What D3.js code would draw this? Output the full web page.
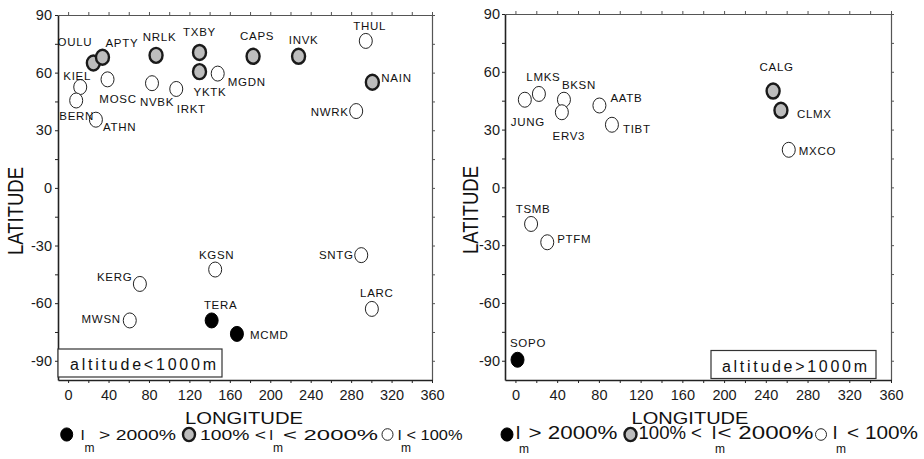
<!DOCTYPE html>
<html>
<head>
<meta charset="utf-8">
<script src="https://cdn.jsdelivr.net/npm/d3@7"></script>
<style>
  body { margin: 0; background: #fff; }
  svg { display: block; font-family: "Liberation Sans", Arial, sans-serif; }
</style>
</head>
<body>
<svg id="chart" width="924" height="459"></svg>
<script>
// stations below 1000 m
const lowStations = ["OULU", "APTY", "NRLK", "TXBY", "YKTK", "CAPS", "INVK", "NAIN", "THUL", "NWRK",
                     "KIEL", "BERN", "ATHN", "MOSC", "NVBK", "IRKT", "MGDN", "KGSN", "SNTG", "KERG",
                     "LARC", "MWSN", "TERA", "MCMD"];
const lowLon = [25, 34, 87, 130, 130, 183, 228, 301, 294.5, 285,
                12, 8, 27.5, 39, 83, 107, 148, 145.5, 290, 71,
                300.5, 61, 142, 167];
const lowLat = [65, 68, 69, 70.5, 60.5, 68.5, 68.5, 55, 76.5, 40,
                52.5, 45.5, 35.5, 56.5, 54.5, 51.5, 59.5, -42.5, -35, -50,
                -63, -69, -69, -76];
const lowClass = ["mid", "mid", "mid", "mid", "mid", "mid", "mid", "mid", "low", "low",
                  "low", "low", "low", "low", "low", "low", "low", "low", "low", "low",
                  "low", "low", "high", "high"];

// stations above 1000 m
const highStations = ["JUNG", "LMKS", "BKSN", "ERV3", "AATB", "TIBT", "CALG", "CLMX", "MXCO", "TSMB", "PTFM", "SOPO"];
const highLon = [9, 22.5, 46.5, 44.5, 80.5, 92.5, 247, 254.5, 262, 15, 30.5, 2];
const highLat = [45.5, 48.5, 45.5, 39, 42.5, 32.5, 50, 40, 19.5, -19, -28.5, -89.5];
const highClass = ["low", "low", "low", "low", "low", "low", "mid", "mid", "low", "low", "low", "high"];

const yTickValues = d3.range(-90, 91, 15);
const xTickValues = d3.range(0, 361, 20);
const boxTexts = ["altitude<1000m", "altitude>1000m"];

// label placement next to each marker: [dx, dy, anchor]
const labelPos = {
  OULU: [-1, -17, "end"], APTY: [3, -10, "start"], NRLK: [3.5, -14, "middle"], TXBY: [0, -16, "middle"],
  CAPS: [4, -16, "middle"], INVK: [5, -12, "middle"], THUL: [4, -11, "middle"], NAIN: [9, 0, "start"],
  KIEL: [-3, -7, "middle"], BERN: [0.5, 19.5, "middle"], ATHN: [7, 11, "start"], MOSC: [10.5, 24, "middle"],
  NVBK: [5, 23, "middle"], IRKT: [0.5, 24, "start"], YKTK: [10.5, 24, "middle"], MGDN: [10, 12, "start"],
  NWRK: [-7.5, 4.5, "end"], KGSN: [1.5, -11, "middle"], SNTG: [-7.5, 3.5, "end"], KERG: [-7.5, -3, "end"],
  LARC: [5, -12, "middle"], TERA: [9, -11.5, "middle"], MWSN: [-9, 3, "end"], MCMD: [13, 5.5, "start"],
  LMKS: [4.5, -13, "middle"], BKSN: [15, -11, "middle"], JUNG: [3, 26, "middle"], ERV3: [7, 28, "middle"],
  AATB: [11, -3.5, "start"], TIBT: [11, 8, "start"], CALG: [3.5, -20, "middle"], CLMX: [16, 8, "start"],
  MXCO: [10, 5, "start"], TSMB: [2, -11, "middle"], PTFM: [10, 1, "start"], SOPO: [10.5, -13, "middle"]
};

const markerStyle = {
  high: {fill: "#000", stroke: "#000", width: 1},
  mid: {fill: "#bdbdbd", stroke: "#1a1a1a", width: 2.4},
  low: {fill: "#fff", stroke: "#222", width: 1}
};

const panels = [
  {names: lowStations, lon: lowLon, lat: lowLat, cls: lowClass, box: boxTexts[0],
   left: 58, right: 432, top: 15, bottom: 380, yGap: 3,
   boxRect: [58, 349, 164, 28], boxTextX: 70, boxTextW: 146,
   xTitle: [244, 118], yTitle: [16, 211]},
  {names: highStations, lon: highLon, lat: highLat, cls: highClass, box: boxTexts[1],
   left: 505, right: 891, top: 14, bottom: 380, yGap: 2,
   boxRect: [711, 350.5, 165, 28], boxTextX: 722, boxTextW: 145,
   xTitle: [690, 117], yTitle: [471, 210]}
];

const svg = d3.select("#chart");

// the source figure has horizontally stretched lettering; widen text to a target width
function stretchTo(sel, x, y, width, anchor) {
  const node = sel.node();
  const s = width / node.getComputedTextLength();
  sel.attr("x", 0).attr("y", 0)
    .attr("text-anchor", anchor || "start")
    .attr("transform", `translate(${x},${y}) scale(${s},1)`);
  return sel;
}

panels.forEach(p => {
  const x = d3.scaleLinear().domain([-10, 360]).range([p.left, p.right]);
  const y = d3.scaleLinear().domain([-100, 90]).range([p.bottom, p.top]);
  const g = svg.append("g");

  // frame axes: top/right mirror ticks
  g.append("g").attr("transform", `translate(0,${p.top})`)
    .call(d3.axisTop(x).tickValues(xTickValues).tickSize(3).tickSizeOuter(0).tickFormat(""))
    .call(a => a.select(".domain").attr("stroke", "#555").attr("stroke-width", 1.2))
    .call(a => a.selectAll(".tick line").attr("stroke", "#555"));
  g.append("g").attr("transform", `translate(${p.right},0)`)
    .call(d3.axisRight(y).tickValues(yTickValues).tickSize(3).tickSizeOuter(0).tickFormat(""))
    .call(a => a.select(".domain").attr("stroke", "#555").attr("stroke-width", 1.2))
    .call(a => a.selectAll(".tick line").attr("stroke", "#555"));

  const xAxis = g.append("g").attr("transform", `translate(0,${p.bottom})`)
    .call(d3.axisBottom(x).tickValues(xTickValues).tickSize(3).tickSizeOuter(0).tickPadding(7)
      .tickFormat(d => d % 40 === 0 ? d : ""));
  const yAxis = g.append("g").attr("transform", `translate(${p.left},0)`)
    .call(d3.axisLeft(y).tickValues(yTickValues).tickSize(3).tickSizeOuter(0).tickPadding(p.yGap)
      .tickFormat(d => d % 30 === 0 ? d : ""));
  [xAxis, yAxis].forEach(a => {
    a.select(".domain").attr("stroke", "#222").attr("stroke-width", 1.6);
    a.selectAll(".tick line").attr("stroke", "#222");
    a.selectAll(".tick text").attr("font-size", "14.5px").attr("fill", "#1a1a1a")
      .attr("font-family", "Liberation Sans, Arial, sans-serif");
  });

  // altitude box
  g.append("rect")
    .attr("x", p.boxRect[0]).attr("y", p.boxRect[1])
    .attr("width", p.boxRect[2]).attr("height", p.boxRect[3])
    .attr("fill", "#fff").attr("stroke", "#333").attr("stroke-width", 1.2);
  g.append("text")
    .attr("x", p.boxTextX).attr("y", p.boxRect[1] + 21)
    .attr("font-size", "16px").attr("fill", "#111")
    .attr("textLength", p.boxTextW).attr("lengthAdjust", "spacing")
    .text(p.box);

  // axis titles
  stretchTo(g.append("text").attr("font-size", "16px").attr("fill", "#111").text("LONGITUDE"),
    p.xTitle[0], 424, p.xTitle[1], "middle");
  g.append("text")
    .attr("transform", `translate(${p.yTitle[0] + 7},${p.yTitle[1]}) rotate(-90) scale(1,1.15)`)
    .attr("text-anchor", "middle").attr("font-size", "18.5px").attr("fill", "#111")
    .attr("textLength", 88).attr("lengthAdjust", "spacingAndGlyphs")
    .text("LATITUDE");

  const rows = p.names.map((n, i) => ({name: n, lon: p.lon[i], lat: p.lat[i], cls: p.cls[i]}));

  g.selectAll(".station")
    .data(rows)
    .join("ellipse")
    .attr("class", "station")
    .attr("cx", d => x(d.lon))
    .attr("cy", d => y(d.lat))
    .attr("rx", 6.5).attr("ry", 7.5)
    .attr("fill", d => markerStyle[d.cls].fill)
    .attr("stroke", d => markerStyle[d.cls].stroke)
    .attr("stroke-width", d => markerStyle[d.cls].width);

  g.selectAll(".station-label")
    .data(rows)
    .join("text")
    .attr("class", "station-label")
    .attr("x", d => x(d.lon) + labelPos[d.name][0])
    .attr("y", d => y(d.lat) + labelPos[d.name][1])
    .attr("text-anchor", d => labelPos[d.name][2])
    .attr("font-size", "11.5px")
    .attr("letter-spacing", "0.7px")
    .attr("fill", "#111")
    .text(d => d.name);
});

// legends under each panel: marker, then text pieces [text, x, width, sub?]
const legends = [
  {font: 15.5, base: 439.5, subBase: 451.5, cy: 434.5, markers: [["high", 66.7], ["mid", 189], ["low", 387.5]],
   pieces: [["I", 80.5], ["m", 84.5, 0, true], ["> 2000%", 99, 77],
            ["100% <", 200, 66], ["I", 269], ["m", 273, 0, true], ["< 2000%", 283, 95],
            ["I", 397.5], ["m", 401, 0, true], ["< 100%", 406.5, 56]]},
  {font: 18.5, base: 438.5, subBase: 453, cy: 434.5, markers: [["high", 507], ["mid", 630.5], ["low", 821]],
   pieces: [["I", 515.5], ["m", 519, 0, true], ["> 2000%", 528.5, 89],
            ["100% <", 638.5, 63.5], ["I", 711.5], ["m", 715, 0, true], ["< 2000%", 717.5, 96],
            ["I", 832.5], ["m", 836, 0, true], ["< 100%", 847, 71]]}
];

legends.forEach(l => {
  const lg = svg.append("g");
  lg.selectAll("ellipse")
    .data(l.markers)
    .join("ellipse")
    .attr("cx", d => d[1]).attr("cy", l.cy)
    .attr("rx", d => d[0] === "low" ? 5.5 : 6)
    .attr("ry", d => d[0] === "low" ? 5.8 : 6.6)
    .attr("fill", d => markerStyle[d[0]].fill)
    .attr("stroke", d => markerStyle[d[0]].stroke)
    .attr("stroke-width", d => markerStyle[d[0]].width);
  l.pieces.forEach(d => {
    const t = lg.append("text")
      .attr("x", d[1])
      .attr("y", d[3] ? l.subBase : l.base)
      .attr("font-size", d[3] ? "12px" : l.font + "px")
      .attr("fill", "#111")
      .text(d[0]);
    if (d[2]) stretchTo(t, d[1], l.base, d[2]);
  });
});
</script>
</body>
</html>
